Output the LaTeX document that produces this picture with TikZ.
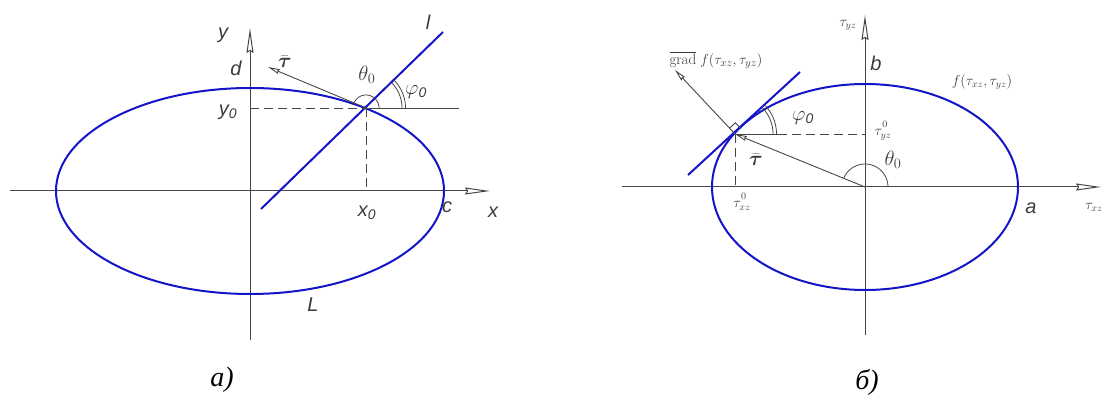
\documentclass[tikz,border=0pt]{standalone}
\usepackage{amsmath}
\usepackage{fontspec}
\newfontfamily\gost{Liberation Sans}
\newfontfamily\capfont{Liberation Serif}
\usetikzlibrary{arrows.meta}
\definecolor{curveblue}{RGB}{20,20,200}
\definecolor{axisgray}{RGB}{70,70,70}
\definecolor{labgray}{RGB}{60,60,60}
\tikzset{
  axisline/.style={draw=axisgray, line width=1pt},
  axisarrow/.style={axisline, -{Stealth[open, length=25pt, width=7pt, inset=2pt]}},
  curve/.style={draw=curveblue, line width=2pt},
  thin line/.style={draw=axisgray, line width=0.9pt},
  dashline/.style={draw=axisgray, line width=0.9pt, dash pattern=on 9pt off 5pt},
  vecarrow/.style={draw=axisgray, line width=0.9pt, -{Stealth[open, length=12pt, width=5pt, inset=1pt]}},
  glab/.style={text=labgray, font=\gost\itshape\fontsize{20}{22}\selectfont, inner sep=0pt},
  mlab/.style={text=labgray, font=\fontsize{20}{22}\selectfont, inner sep=0pt},
  slab/.style={text=labgray, font=\fontsize{14}{16}\selectfont, inner sep=0pt},
  caplab/.style={text=black, font=\capfont\itshape\fontsize{28}{30}\selectfont, inner sep=0pt},
}
\begin{document}
\begin{tikzpicture}[x=1pt, y=-1pt]
\useasboundingbox (0,0) rectangle (1101,398);
% ================= left figure =================
\coordinate (O1) at (250,191);
\coordinate (XL1) at (10,191);
\coordinate (XR1) at (490,191);
\coordinate (YB1) at (250,340);
\coordinate (YT1) at (250,28);
\coordinate (P1) at (366,108);
\coordinate (L1a) at (261,209);
\coordinate (L1b) at (443,32);
\coordinate (H1) at (459,108);
\coordinate (Y01) at (250,108);
\coordinate (X01) at (366,191);
\coordinate (T1) at (268,67);
\path[axisarrow] (XL1) -- (XR1);
\path[axisarrow] (YB1) -- (YT1);
\path[curve] (O1) ellipse [x radius=194pt, y radius=103pt];
\path[curve] (L1a) -- (L1b);
\path[thin line] (P1) -- (H1);
\path[dashline] (Y01) -- (P1);
\path[dashline] (P1) -- (X01);
\path[vecarrow] (P1) -- (T1);
\draw[axisgray, line width=0.8pt] plot[domain=0:165, samples=40] ({366+13*cos(\x)},{108-13*sin(\x)});
\draw[axisgray, line width=0.8pt] plot[domain=0:44, samples=20] ({366+36*cos(\x)},{108-36*sin(\x)});
\draw[axisgray, line width=0.8pt] plot[domain=0:44, samples=20] ({366+39.5*cos(\x)},{108-39.5*sin(\x)});
\node[glab] (ly) at (223,35) {y};
\node[glab] (ld) at (236,68) {d};
\node[glab] (ly0) at (228,112) {y\textsubscript{0}};
\node[glab] (ll) at (428,22) {l};
\node[mlab] (ltau) at (285,62) {$\bar{\boldsymbol{\tau}}$};
\node[mlab] (lth) at (367,75) {$\theta_0$};
\node[glab] (lphi) at (416,92) {$\varphi$\textsubscript{0}};
\node[glab] (lx0) at (367,213) {x\textsubscript{0}};
\node[glab] (lc) at (447,207) {c};
\node[glab] (lx) at (493,212) {x};
\node[glab] (lL) at (313,305) {L};
\node[caplab] (capa) at (222,380) {a)};
% ================= right figure =================
\coordinate (O2) at (865,187);
\coordinate (XL2) at (622,187);
\coordinate (XR2) at (1101,187);
\coordinate (YB2) at (865,335);
\coordinate (YT2) at (865,15);
\coordinate (P2) at (735,134);
\coordinate (L2a) at (688,175);
\coordinate (L2b) at (800,72);
\coordinate (G2) at (675,70);
\coordinate (H2) at (778,134);
\coordinate (Y02) at (865,134);
\coordinate (X02) at (735,187);
\coordinate (Q1) at (740.9,128.6);
\coordinate (Q2) at (735.4,122.8);
\coordinate (Q3) at (729.5,128.2);
\path[axisarrow] (XL2) -- (XR2);
\path[axisarrow] (YB2) -- (YT2);
\path[curve] (O2) ellipse [x radius=153pt, y radius=103pt];
\path[curve] (L2a) -- (L2b);
\path[vecarrow] (P2) -- (G2);
\path[vecarrow] (O2) -- (P2);
\path[thin line] (P2) -- (H2);
\path[dashline] (H2) -- (Y02);
\path[dashline] (P2) -- (X02);
\path[thin line] (Q1) -- (Q2) -- (Q3);
\draw[axisgray, line width=0.8pt] plot[domain=0:158, samples=40] ({865+23*cos(\x)},{187-23*sin(\x)});
\draw[axisgray, line width=0.8pt] plot[domain=0:43, samples=20] ({735+38*cos(\x)},{134-38*sin(\x)});
\draw[axisgray, line width=0.8pt] plot[domain=0:43, samples=20] ({735+41.5*cos(\x)},{134-41.5*sin(\x)});
\node[slab] (rtyz) at (848,25) {$\tau_{yz}$};
\node[glab] (rb) at (876,63) {b};
\node[slab] (rf) at (982,82) {$f(\tau_{xz},\tau_{yz})$};
\node[slab] (rtyz0) at (883,131) {$\tau^{\raisebox{2pt}{$\scriptstyle 0$}}_{yz}$};
\node[mlab] (rth) at (893,160) {$\theta_0$};
\node[slab, font=\fontsize{15}{17}\selectfont] (rgrad) at (716,60) {$\overline{\mathrm{grad}}\;f(\tau_{xz},\tau_{yz})$};
\node[glab] (rphi) at (803,118) {$\varphi$\textsubscript{0}};
\node[mlab] (rtau) at (756,160) {$\bar{\boldsymbol{\tau}}$};
\node[slab] (rtxz0) at (742,202) {$\tau^{\raisebox{2pt}{$\scriptstyle 0$}}_{xz}$};
\node[glab] (ra) at (1031,208) {a};
\node[slab] (rtxz) at (1094,207) {$\tau_{xz}$};
\node[caplab] (capb) at (867,382) {б)};
\end{tikzpicture}
\end{document}
